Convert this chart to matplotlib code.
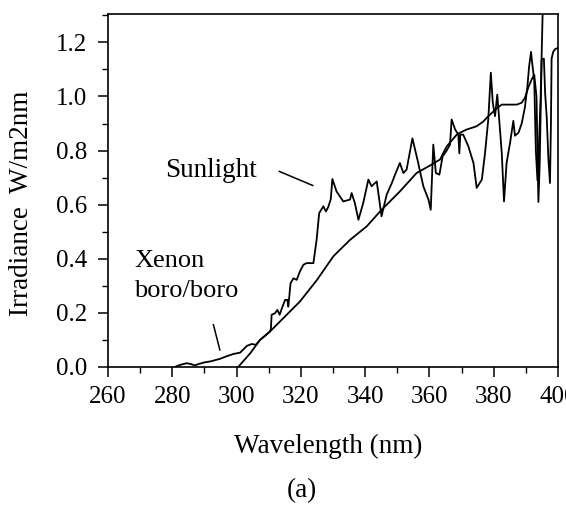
import matplotlib
matplotlib.use("Agg")
import matplotlib.pyplot as plt
from matplotlib.ticker import MultipleLocator, FormatStrFormatter

plt.rcParams['font.family'] = ['Liberation Serif', 'DejaVu Serif']

# Xenon boro/boro lamp spectrum (nm, W/m2nm)
xenon_wl = [280.8, 282.5, 284.5, 286.0, 287.0, 288.5, 290.0, 292.0, 294.8, 297.0,
            299.0, 301.1, 303.2, 304.7, 306.0, 307.3, 310.4, 314.5, 319.7, 324.9,
            330.1, 335.3, 340.5, 345.1, 350.8, 356.0, 360.2, 363.3, 364.3, 365.4,
            368.5, 369.5, 371.6, 374.7, 376.8, 378.3, 381.1, 382.5, 387.2, 388.7,
            389.7, 390.8, 391.8, 392.6, 393.3, 393.9, 394.3, 394.9, 395.6, 396.0,
            396.5, 397.0, 397.5, 397.8, 398.0, 398.5, 399.1, 400.0]
xenon_val = [0.000, 0.008, 0.014, 0.010, 0.006, 0.012, 0.017, 0.021, 0.030, 0.040,
             0.048, 0.053, 0.078, 0.085, 0.082, 0.100, 0.131, 0.180, 0.242, 0.320,
             0.409, 0.470, 0.520, 0.581, 0.649, 0.717, 0.745, 0.767, 0.791, 0.816,
             0.859, 0.866, 0.878, 0.890, 0.908, 0.927, 0.958, 0.970, 0.970, 0.977,
             0.995, 1.035, 1.063, 1.080, 1.000, 0.610, 0.750, 1.137, 1.140, 1.010,
             0.920, 0.770, 0.680, 0.900, 1.140, 1.165, 1.175, 1.180]

# Sunlight spectrum (nm, W/m2nm)
sun_wl = [300.5, 304.2, 307.3, 310.4, 310.7, 310.9, 312.0, 312.7, 313.4, 314.1,
          315.1, 315.8, 316.1, 316.8, 317.7, 318.7, 319.7, 320.8, 321.8, 323.9,
          324.9, 325.7, 327.0, 327.8, 328.5, 329.3, 329.8, 331.1, 333.2, 335.3,
          335.8, 336.8, 337.9, 339.4, 341.0, 342.0, 343.6, 345.1, 346.7, 348.3,
          349.3, 350.8, 351.9, 352.9, 354.7, 356.3, 358.1, 359.7, 360.4, 361.2,
          362.0, 363.1, 364.1, 365.2, 366.4, 366.9, 368.0, 369.0, 369.3, 369.6,
          370.5, 372.1, 373.7, 374.7, 376.3, 377.3, 378.3, 379.1, 379.7, 380.4,
          381.1, 381.7, 382.5, 383.2, 384.0, 385.1, 386.1, 386.6, 387.7, 388.7,
          389.7, 390.5, 391.0, 391.6, 392.0, 392.6, 393.1, 393.6, 394.0, 394.6,
          395.0, 395.3]
sun_val = [0.000, 0.050, 0.100, 0.131, 0.143, 0.193, 0.199, 0.211, 0.193, 0.217,
           0.248, 0.248, 0.223, 0.310, 0.328, 0.322, 0.353, 0.378, 0.384, 0.384,
           0.470, 0.569, 0.594, 0.575, 0.591, 0.620, 0.695, 0.649, 0.612, 0.619,
           0.643, 0.606, 0.544, 0.606, 0.693, 0.668, 0.686, 0.557, 0.637, 0.680,
           0.711, 0.754, 0.717, 0.730, 0.845, 0.765, 0.668, 0.619, 0.581, 0.822,
           0.717, 0.711, 0.779, 0.797, 0.822, 0.915, 0.878, 0.859, 0.790, 0.859,
           0.859, 0.816, 0.754, 0.662, 0.693, 0.791, 0.915, 1.088, 0.977, 0.927,
           1.007, 0.915, 0.791, 0.612, 0.754, 0.830, 0.910, 0.855, 0.866, 0.900,
           0.960, 1.040, 1.110, 1.165, 1.120, 1.060, 0.800, 0.690, 0.800, 1.000,
           1.200, 1.350]

x_ticks = [260, 280, 300, 320, 340, 360, 380, 400]
y_ticks = [0.0, 0.2, 0.4, 0.6, 0.8, 1.0, 1.2]

fig = plt.figure(figsize=(5.66, 5.05), dpi=100)
ax = fig.add_axes([0.1908, 0.2733, 0.7951, 0.6990])

ax.plot(xenon_wl, xenon_val, color='black', lw=1.3)
ax.plot(sun_wl, sun_val, color='black', lw=1.3)

ax.set_xlim(260, 400)
ax.set_ylim(0, 1.305)
ax.set_xticks(x_ticks)
ax.set_yticks(y_ticks)
ax.xaxis.set_minor_locator(MultipleLocator(10))
ax.yaxis.set_minor_locator(MultipleLocator(0.1))
ax.yaxis.set_major_formatter(FormatStrFormatter('%.1f'))
ax.tick_params(which='major', direction='out', length=7, width=1.1, labelsize=18)
ax.tick_params(axis='x', which='major', pad=7)
ax.tick_params(axis='y', which='major', pad=8)
ax.tick_params(which='minor', direction='out', length=4, width=1.0)
for s in ax.spines.values():
    s.set_linewidth(1.2)

# annotations
ax.text(277.7, 0.704, 'Sunlight', fontsize=19.5, ha='left', va='baseline')
ax.plot([313.3, 323.7], [0.723, 0.671], color='black', lw=1.1)
ax.text(268.1, 0.371, 'Xenon', fontsize=19, ha='left', va='baseline')
ax.text(268.1, 0.259, 'boro/boro', fontsize=19, ha='left', va='baseline')
ax.plot([292.8, 294.8], [0.156, 0.063], color='black', lw=1.1)

fig.text(21.7 / 566, 1 - 203 / 505, 'Irradiance  W/m2nm', rotation=90,
         ha='center', va='center', fontsize=19.5)
fig.text(328 / 566, 1 - 453 / 505, 'Wavelength (nm)', ha='center', va='baseline',
         fontsize=19.5)
fig.text(302 / 566, 1 - 497 / 505, '(a)', ha='center', va='baseline', fontsize=19.5)

fig.savefig('out.png', dpi=100)
